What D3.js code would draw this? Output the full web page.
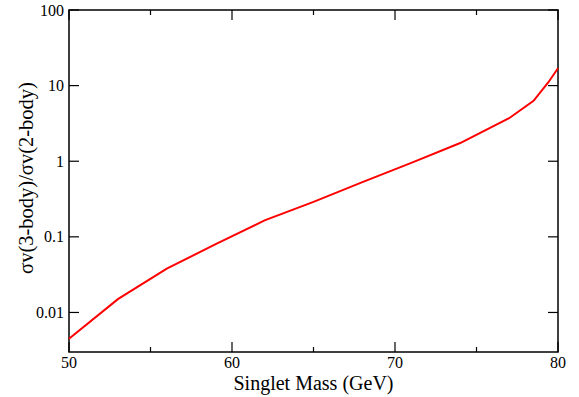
<!DOCTYPE html>
<html>
<head>
<meta charset="utf-8">
<script src="https://cdn.jsdelivr.net/npm/d3@7"></script>
<style>
html,body{margin:0;padding:0;background:#fff;}
svg text{font-family:"Liberation Serif","Times New Roman",serif;fill:#000;}
</style>
</head>
<body>
<svg id="chart" width="579" height="397"></svg>
<script>
const massValues = [50, 53, 56, 59, 62, 65, 68, 71, 74, 77, 78.5, 79.4, 80];
const ratioValues = [0.0045, 0.015, 0.038, 0.08, 0.165, 0.29, 0.53, 0.95, 1.74, 3.7, 6.3, 11, 17];
const xMajorTicks = [50, 60, 70, 80];
const xMinorTicks = [55, 65, 75];
const yTicks = [0.01, 0.1, 1, 10, 100];
const yTickLabels = ["0.01", "0.1", "1", "10", "100"];
const xLabel = "Singlet Mass (GeV)";
const yLabel = "σv(3-body)/σv(2-body)";

const svg = d3.select("#chart");
const m = {left: 69, right: 558, top: 10, bottom: 352};
const x = d3.scaleLinear().domain([50, 80]).range([m.left, m.right]);
const y = d3.scaleLog().domain([0.003, 100]).range([m.bottom, m.top]);

const g = svg.append("g");
// frame
g.append("rect").attr("x", m.left).attr("y", m.top)
  .attr("width", m.right - m.left).attr("height", m.bottom - m.top)
  .attr("fill", "none").attr("stroke", "#000").attr("stroke-width", 1.5);

// ticks
function addTicks(vals, len) {
  vals.forEach(v => {
    const px = x(v);
    g.append("line").attr("x1", px).attr("x2", px).attr("y1", m.bottom).attr("y2", m.bottom - len)
      .attr("stroke", "#000").attr("stroke-width", 1.2);
    g.append("line").attr("x1", px).attr("x2", px).attr("y1", m.top).attr("y2", m.top + len)
      .attr("stroke", "#000").attr("stroke-width", 1.2);
  });
}
addTicks(xMajorTicks, 10);
addTicks(xMinorTicks, 5);
yTicks.forEach(v => {
  const py = y(v);
  g.append("line").attr("x1", m.left).attr("x2", m.left + 10).attr("y1", py).attr("y2", py)
    .attr("stroke", "#000").attr("stroke-width", 1.2);
  g.append("line").attr("x1", m.right).attr("x2", m.right - 10).attr("y1", py).attr("y2", py)
    .attr("stroke", "#000").attr("stroke-width", 1.2);
});

// tick labels
xMajorTicks.forEach(v => {
  g.append("text").attr("x", x(v)).attr("y", 368).attr("text-anchor", "middle")
    .attr("font-size", 16).text(v);
});
yTicks.forEach((v, i) => {
  g.append("text").attr("x", 64).attr("y", y(v)).attr("dy", "0.35em").attr("text-anchor", "end")
    .attr("font-size", 16).text(yTickLabels[i]);
});

// axis titles
g.append("text").attr("x", (m.left + m.right) / 2).attr("y", 390).attr("text-anchor", "middle")
  .attr("font-size", 20).text(xLabel);
g.append("text").attr("transform", `translate(33,${(m.top + m.bottom) / 2 - 3}) rotate(-90)`)
  .attr("text-anchor", "middle").attr("font-size", 20.5).text(yLabel);

// curve
const data = massValues.map((d, i) => [d, ratioValues[i]]);
g.append("path").datum(data)
  .attr("d", d3.line().x(d => x(d[0])).y(d => y(d[1])))
  .attr("fill", "none").attr("stroke", "#ff0000").attr("stroke-width", 2);
</script>
</body>
</html>
